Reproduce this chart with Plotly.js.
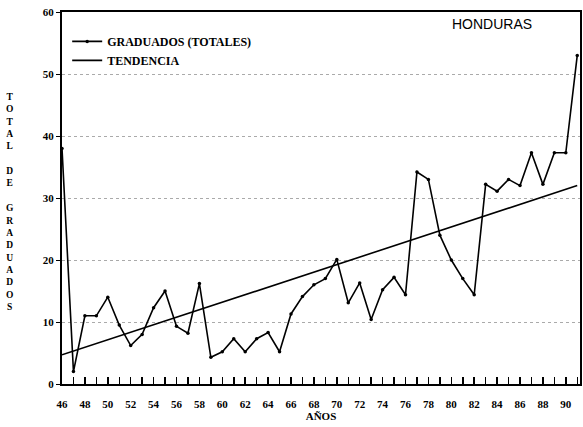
<!DOCTYPE html>
<html>
<head>
<meta charset="utf-8">
<script src="https://cdn.plot.ly/plotly-3.0.1.min.js"></script>
<style>html,body{margin:0;padding:0;background:#fff}#chart{width:583px;height:427px}</style>
</head>
<body>
<div id="chart"></div>
<script>
var years = [46,47,48,49,50,51,52,53,54,55,56,57,58,59,60,61,62,63,64,65,66,67,68,69,70,71,72,73,74,75,76,77,78,79,80,81,82,83,84,85,86,87,88,89,90,91];
var graduados = [38,2,11,11,14,9.5,6.2,8,12.3,15,9.3,8.2,16.2,4.3,5.2,7.3,5.2,7.3,8.3,5.2,11.3,14.1,16,17,20.1,13.1,16.3,10.4,15.2,17.2,14.4,34.2,33,24,20,17,14.4,32.2,31.1,33,32,37.3,32.2,37.3,37.3,53];
var trendYears = [46,91];
var trendValues = [4.7,32.0];
var seriesNames = ['GRADUADOS (TOTALES)','TENDENCIA'];
var yTitle = 'TOTAL DE GRADUADOS';
var xTitle = 'AÑOS';
var countryLabel = 'HONDURAS';

var serif = 'Liberation Serif, serif';

var traces = [
  {x: years, y: graduados, name: seriesNames[0], type: 'scatter', mode: 'lines+markers',
   line: {color: '#000', width: 1.6}, marker: {color: '#000', size: 3.5}},
  {x: trendYears, y: trendValues, name: seriesNames[1], type: 'scatter', mode: 'lines',
   line: {color: '#000', width: 1.6}}
];

// stacked vertical title letters
var words = yTitle.split(' ');
var stacked = words.map(function(w){ return w.split('').join('<br>'); }).join('<br> <br>');

var layout = {
  width: 583, height: 427,
  margin: {l: 62, r: 3, t: 12, b: 43},
  paper_bgcolor: '#fff', plot_bgcolor: '#fff',
  showlegend: true,
  legend: {x: 0.01, y: 0.96, xanchor: 'left', yanchor: 'top', bgcolor: 'rgba(0,0,0,0)',
           font: {family: serif, size: 12, color: '#000', weight: 'bold'}},
  xaxis: {range: [46, 91.24], tick0: 46, dtick: 2, showgrid: false, zeroline: false,
          showline: true, linecolor: '#000', linewidth: 2, mirror: true,
          ticks: 'inside', ticklen: 7, tickcolor: '#000', tickwidth: 1.5,
          minor: {dtick: 1, ticks: 'inside', ticklen: 7, tickcolor: '#000', tickwidth: 1.5},
          ticklabelstandoff: 9,
          tickfont: {family: serif, size: 11, color: '#000', weight: 'bold'},
          title: {text: xTitle, font: {family: serif, size: 11, color: '#000', weight: 'bold'}, standoff: 2}},
  yaxis: {range: [0, 60], dtick: 10, showgrid: true, gridcolor: '#aaa', griddash: 'dot', gridwidth: 1,
          zeroline: false, showline: true, linecolor: '#000', linewidth: 2, mirror: true,
          ticks: 'outside', ticklen: 4, tickcolor: '#000',
          tickfont: {family: serif, size: 11, color: '#000', weight: 'bold'}},
  annotations: [
    {text: countryLabel, xref: 'paper', yref: 'paper', x: 0.83, y: 0.968, xanchor: 'center', yanchor: 'middle',
     showarrow: false, font: {family: 'Liberation Sans, Arial, sans-serif', size: 14, color: '#000'}},
    {text: stacked, xref: 'paper', yref: 'paper', x: -0.1, y: 0.489, xanchor: 'center', yanchor: 'middle',
     showarrow: false, align: 'center', font: {family: serif, size: 9.5, color: '#000', weight: 'bold'}}
  ]
};

Plotly.newPlot('chart', traces, layout, {displayModeBar: false, staticPlot: true});
</script>
</body>
</html>
